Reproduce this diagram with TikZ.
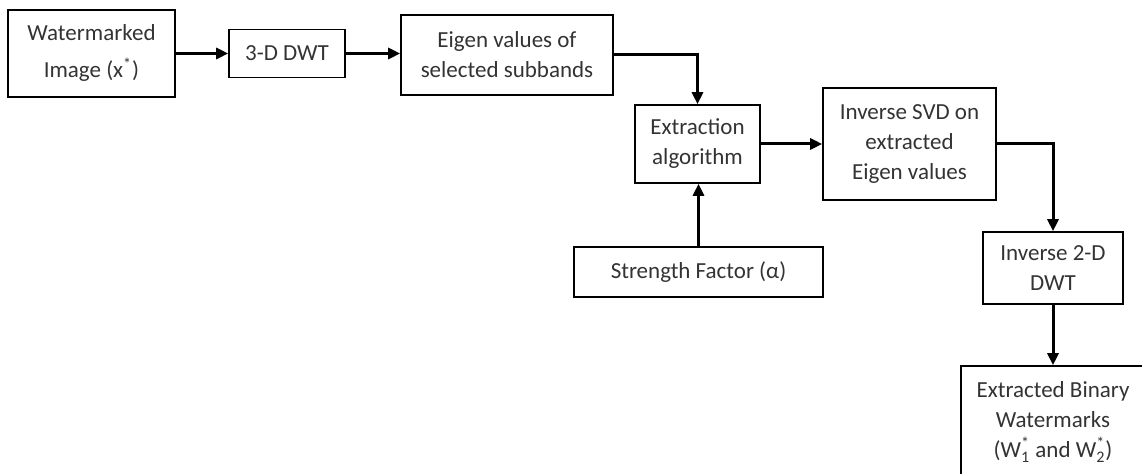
\documentclass[tikz,border=0pt]{standalone}
\usepackage{amsmath}
\usepackage{fontspec}
\setmainfont{Carlito}
\usetikzlibrary{arrows.meta}

\begin{document}
\begin{tikzpicture}[x=0.5pt, y=-0.5pt,
    every node/.style={font=\fontsize{11.5}{15}\selectfont, text=black!80},
    blk/.style={draw, line width=0.8pt, align=center, inner sep=0pt},
    flow/.style={line width=1.5pt, -{Triangle[length=6pt,width=5.5pt]}}]
    \clip (0,0) rectangle (1142,474);

    \node[blk, minimum width=83.5pt, minimum height=43.5pt] (img) at (91.5,53.5) {Watermarked\\[3.5pt]Image (x\textsuperscript{*})};
    \node[blk, minimum width=58pt, minimum height=24pt] (dwt) at (287,53.5) {3-D DWT};
    \node[blk, minimum width=106pt, minimum height=40pt] (eig) at (507,55) {Eigen values of\\selected subbands};
    \node[blk, minimum width=62.5pt, minimum height=39pt] (ext) at (697.5,144) {Extraction\\algorithm};
    \node[blk, minimum width=124.5pt, minimum height=25pt] (str) at (698.5,272) {Strength Factor (α)};
    \node[blk, minimum width=86.5pt, minimum height=56pt] (isvd) at (909.5,144) {Inverse SVD on\\extracted\\Eigen values};
    \node[blk, minimum width=70pt, minimum height=36pt] (idwt) at (1053,268) {Inverse 2-D\\DWT};
    \node[blk, minimum width=92pt, minimum height=56pt] (out) at (1053,422) {Extracted Binary\\Watermarks\\($\text{W}_{\text{1}}^{\text{*}}$ and $\text{W}_{\text{2}}^{\text{*}}$)};

    \draw[flow] (img.east) -- (img.east -| dwt.west);
    \draw[flow] (dwt.east) -- (dwt.east -| eig.west);
    \draw[flow] (eig.east) -| (ext.north);
    \draw[flow] (str.north) -- (str.north |- ext.south);
    \draw[flow] (ext.east) -- (isvd.west);
    \draw[flow] (isvd.east) -| (idwt.north);
    \draw[flow] (idwt.south) -- (out.north);
\end{tikzpicture}
\end{document}
